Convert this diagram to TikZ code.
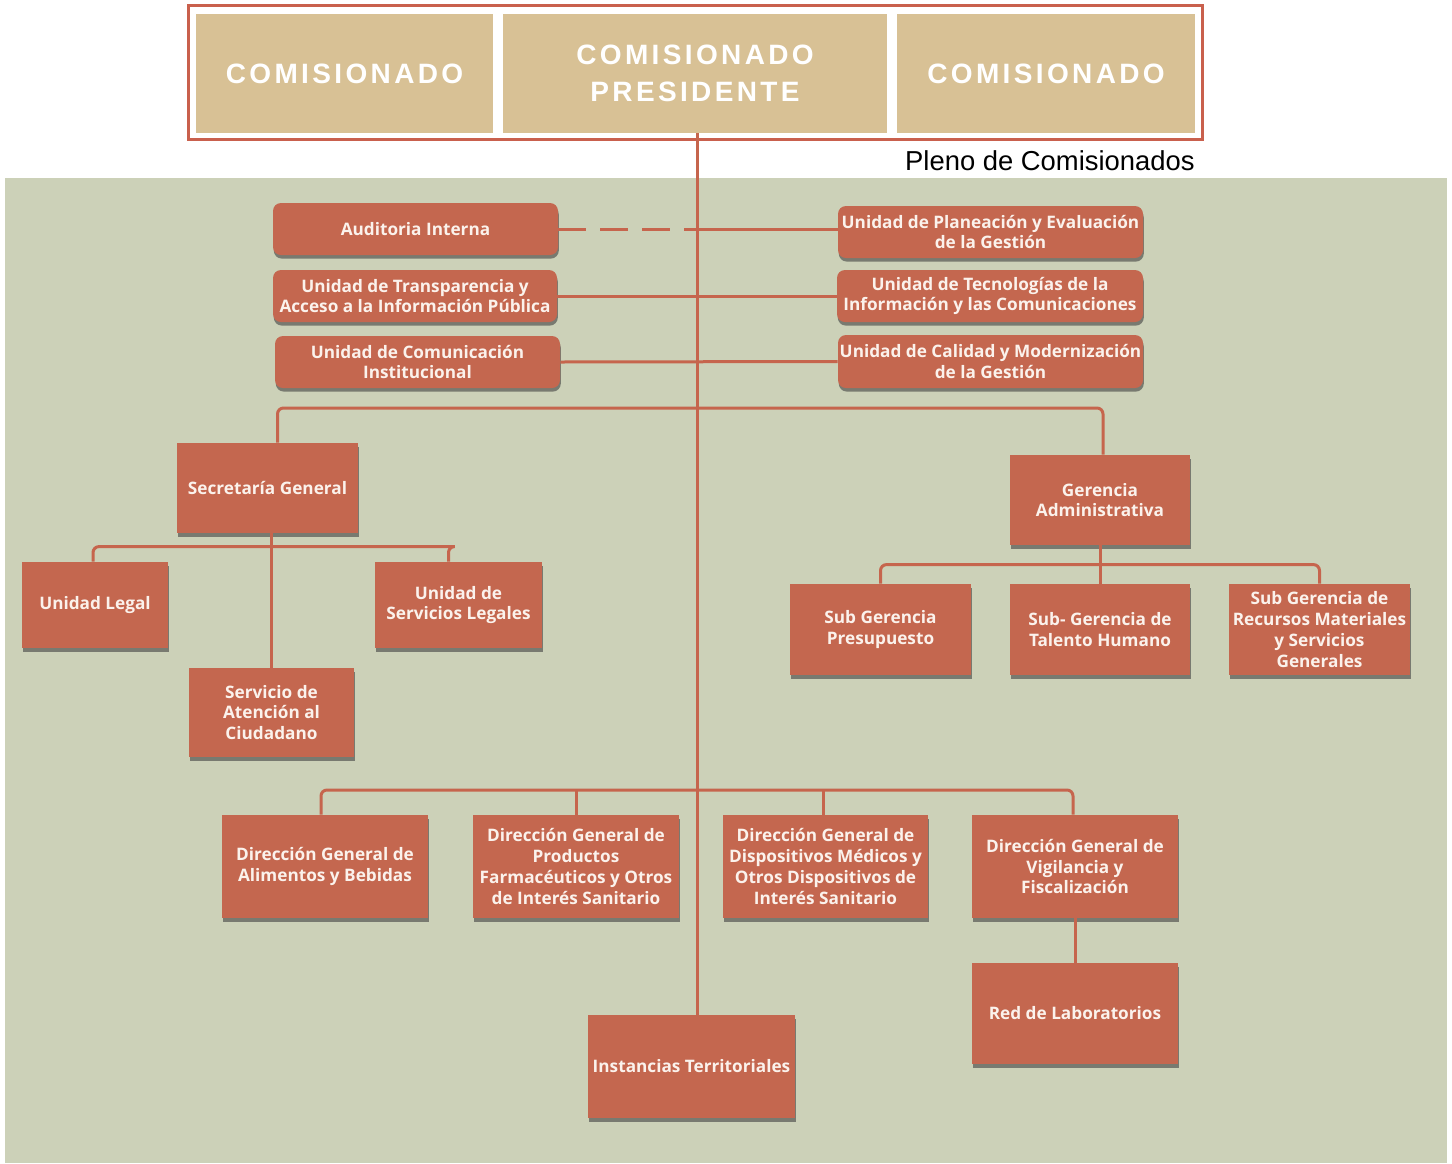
\documentclass[tikz,border=0pt]{standalone}
\usepackage{fontspec}
\setmainfont{Liberation Sans}
\newfontfamily\boxfont{Open Sans}
\newfontfamily\capsfont[LetterSpace=12]{Liberation Sans}
\usetikzlibrary{shadows}

\definecolor{bggreen}{HTML}{CCD1B8}
\definecolor{unitfill}{HTML}{C4674F}
\definecolor{linkred}{HTML}{C6654D}
\definecolor{tan}{HTML}{D8C195}
\definecolor{framered}{HTML}{C9604D}
\definecolor{boxtext}{HTML}{FBF2EC}

\tikzset{
  unit/.style={fill=unitfill, draw=none, inner sep=0pt, align=center,
    text=boxtext, font=\boxfont\bfseries\fontsize{8.6}{10.4}\selectfont,
    drop shadow={shadow xshift=0.4pt, shadow yshift=-1.8pt, opacity=.6, fill=black!75}},
  roundunit/.style={unit, rounded corners=4pt},
  seat/.style={fill=tan, draw=none, inner sep=0pt, align=center, text=white,
    font=\capsfont\bfseries\fontsize{14}{18.5}\selectfont},
  conn/.style={draw=linkred, line width=1.5pt},
}

% box from corner (x1,y1) to corner (x2,y2), in pixel-like units
\newcommand\orgbox[7][unit]{%
  \node[#1, minimum width={(#5-#3)*0.5pt}, minimum height={(#6-#4)*0.5pt}]
    (#2) at ({(#3+#5)/2},{(#4+#6)/2}) {#7};}

\begin{document}
\begin{tikzpicture}[x=0.5pt,y=-0.5pt]
  % canvas and shaded working area
  \fill[white] (0,0) rectangle (1452,1163);
  \useasboundingbox (0,0) rectangle (1452,1163);
  \fill[bggreen] (5,178) rectangle (1447,1163);

  % board of commissioners
  \draw[framered, line width=1.5pt] (188,5) rectangle (1202,139);
  \orgbox[seat]{c1}{196}{14}{493}{133}{COMISIONADO}
  \orgbox[seat]{pres}{503}{14}{887}{133}{COMISIONADO\\PRESIDENTE}
  \orgbox[seat]{c2}{897}{14}{1195}{133}{COMISIONADO}
  \node[anchor=base east, inner sep=0pt, font=\fontsize{13.7}{16}\selectfont]
    (pleno) at (1195,170) {Pleno de Comisionados};

  \coordinate (spine) at (697,0);
  \coordinate (b1) at (697,408);
  \coordinate (b3) at (697,790);

  % staff units
  \orgbox[roundunit]{aud}{273}{203}{558}{255}{Auditoria Interna}
  \orgbox[roundunit]{tra}{273}{270}{557}{322}{Unidad de Transparencia y\\Acceso a la Información Pública}
  \orgbox[roundunit]{com}{275}{336}{560}{388}{Unidad de Comunicación\\Institucional}
  \orgbox[roundunit]{pla}{838}{206}{1143}{258}{Unidad de Planeación y Evaluación\\de la Gestión}
  \orgbox[roundunit]{tec}{837}{270}{1143}{322}{Unidad de Tecnologías de la\\Información y las Comunicaciones}
  \orgbox[roundunit]{cal}{838}{335}{1143}{388}{Unidad de Calidad y Modernización\\de la Gestión}

  % secretariat branch
  \orgbox{sec}{177}{443}{358}{533}{Secretaría General}
  \orgbox{leg}{22}{562}{168}{648}{Unidad Legal}
  \orgbox{slg}{375}{562}{542}{648}{Unidad de\\Servicios Legales}
  \orgbox{sac}{189}{668}{354}{757}{Servicio de\\Atención al\\Ciudadano}

  % administrative branch
  \orgbox{ger}{1010}{455}{1190}{545}{Gerencia\\Administrativa}
  \orgbox{spr}{790}{584}{971}{675}{Sub Gerencia\\Presupuesto}
  \orgbox{stal}{1010}{584}{1190}{675}{Sub- Gerencia de\\Talento Humano}
  \orgbox{srec}{1229}{584}{1410}{675}{Sub Gerencia de\\Recursos Materiales\\y Servicios\\Generales}

  % general directorates
  \orgbox{ali}{222}{815}{428}{918}{Dirección General de\\Alimentos y Bebidas}
  \orgbox{pro}{473}{815}{679}{918}{Dirección General de\\Productos\\Farmacéuticos y Otros\\de Interés Sanitario}
  \orgbox{dis}{723}{815}{928}{918}{Dirección General de\\Dispositivos Médicos y\\Otros Dispositivos de\\Interés Sanitario}
  \orgbox{vig}{972}{815}{1178}{918}{Dirección General de\\Vigilancia y\\Fiscalización}
  \orgbox{red}{972}{963}{1178}{1064}{Red de Laboratorios}
  \orgbox{ins}{588}{1015}{795}{1118}{Instancias Territoriales}

  % connectors
  \draw[conn] (pres.south -| spine) -- (ins.north -| spine);
  \draw[conn, dashed, dash pattern=on 14pt off 7pt] (aud.east) -- (aud.east -| spine);
  \draw[conn] (aud.east -| spine) -- (pla.west |- aud.east);
  \draw[conn] (tra.east) -- (tec.west);
  \draw[conn] (com.east) -- (cal.west);
  \draw[conn, rounded corners=3pt] ([xshift=5pt]sec.north) |- (b1) -| ([xshift=1.5pt]ger.north);
  \draw[conn] ([xshift=2pt]sec.south) -- ([xshift=2pt]sec.south |- sac.north);
  \draw[conn, rounded corners=3pt] ([xshift=-1pt]leg.north) |- ([yshift=7.5pt]slg.north) -| ([xshift=-5pt]slg.north);
  \draw[conn] (ger.south) -- (stal.north);
  \draw[conn, rounded corners=3pt] (spr.north) |- ([yshift=9.5pt]stal.north) -| (srec.north);
  \draw[conn, rounded corners=3pt] ([xshift=-2pt]ali.north) |- (b3) -| ([xshift=-1pt]vig.north);
  \draw[conn] (pro.north) -- (pro.north |- b3);
  \draw[conn] ([xshift=-1pt]dis.north) -- ([xshift=-1pt]dis.north |- b3);
  \draw[conn] (vig.south) -- (red.north);
\end{tikzpicture}
\end{document}
